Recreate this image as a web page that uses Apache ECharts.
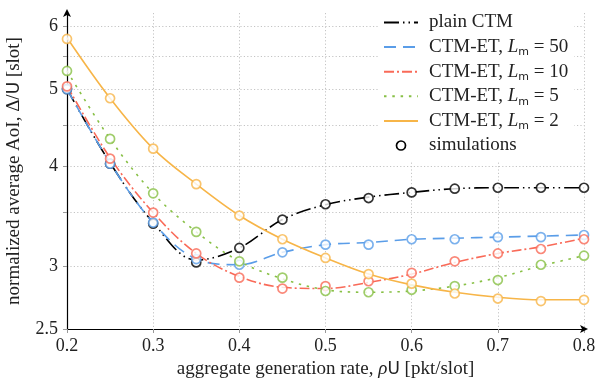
<!DOCTYPE html>
<html>
<head>
<meta charset="utf-8">
<script src="https://cdn.jsdelivr.net/npm/echarts@6/dist/echarts.min.js"></script>
<style>
  html, body { margin: 0; padding: 0; background: #fff; }
  #chart { width: 595px; height: 381px; }
</style>
</head>
<body>
<div id="chart"></div>
<script>
  // aggregate generation rate (x)
  const rates = [0.2, 0.25, 0.3, 0.35, 0.4, 0.45, 0.5, 0.55, 0.6, 0.65, 0.7, 0.75, 0.8];

  // analysis curves
  const plainTheory = [5.00, 4.04, 3.40, 3.05, 3.16, 3.43, 3.58, 3.66, 3.71, 3.75, 3.76, 3.76, 3.76];
  const lm50Theory = [5.00, 4.04, 3.40, 3.06, 3.01, 3.12, 3.19, 3.21, 3.24, 3.25, 3.26, 3.27, 3.28];
  const lm10Theory = [5.05, 4.10, 3.50, 3.11, 2.91, 2.82, 2.81, 2.86, 2.93, 3.03, 3.11, 3.17, 3.25];
  const lm5Theory = [5.27, 4.33, 3.70, 3.31, 3.04, 2.89, 2.80, 2.78, 2.79, 2.83, 2.90, 3.00, 3.09];
  const lm2Theory = [5.80, 4.87, 4.21, 3.80, 3.47, 3.24, 3.07, 2.93, 2.84, 2.78, 2.74, 2.72, 2.72];

  // simulation points
  const plainSim = [5.00, 4.03, 3.39, 3.03, 3.16, 3.43, 3.585, 3.65, 3.71, 3.75, 3.76, 3.76, 3.76];
  const lm50Sim = [5.00, 4.03, 3.40, 3.06, 3.01, 3.12, 3.19, 3.19, 3.24, 3.24, 3.26, 3.26, 3.28];
  const lm10Sim = [5.04, 4.09, 3.50, 3.11, 2.90, 2.81, 2.83, 2.87, 2.94, 3.04, 3.11, 3.15, 3.24];
  const lm5Sim = [5.27, 4.33, 3.70, 3.31, 3.04, 2.90, 2.79, 2.78, 2.80, 2.83, 2.88, 3.01, 3.09];
  const lm2Sim = [5.78, 4.87, 4.21, 3.80, 3.47, 3.24, 3.07, 2.93, 2.85, 2.77, 2.73, 2.71, 2.72];

  // y ticks (log axis)
  const yTicks = [2.5, 3, 3.5, 4, 4.5, 5, 5.5, 6];
  const yLabels = [2.5, 3, 4, 5, 6];

  const serif = 'Liberation Serif';
  const sans = 'DejaVu Sans';
  const ink = '#222';

  const legendNames = {
    'plain CTM': 'plain CTM',
    lm50: 'CTM-ET, {i|L}{sub|m} = 50',
    lm10: 'CTM-ET, {i|L}{sub|m} = 10',
    lm5: 'CTM-ET, {i|L}{sub|m} = 5',
    lm2: 'CTM-ET, {i|L}{sub|m} = 2',
    simulations: 'simulations',
  };

  const curves = [
    { name: 'plain CTM', color: '#000000', dash: [15, 4, 1.5, 4, 1.5, 4], theory: plainTheory, sim: plainSim, simName: 'simulations' },
    { name: 'lm50', color: '#5a9de8', dash: [12, 7], theory: lm50Theory, sim: lm50Sim, simName: 'sim50' },
    { name: 'lm10', color: '#f96a58', dash: [10, 3, 2, 3], theory: lm10Theory, sim: lm10Sim, simName: 'sim10' },
    { name: 'lm5', color: '#88c046', dash: [2.5, 5.8], theory: lm5Theory, sim: lm5Sim, simName: 'sim5' },
    { name: 'lm2', color: '#f7b548', dash: 'solid', theory: lm2Theory, sim: lm2Sim, simName: 'sim2' },
  ];

  function pairs(values) {
    return rates.map((x, i) => [x, values[i]]);
  }

  const series = [];
  curves.forEach((c) => {
    series.push({
      name: c.name,
      type: 'line',
      data: pairs(c.theory),
      smooth: 0.35,
      symbol: 'none',
      lineStyle: { color: c.color, width: 1.6, type: c.dash },
      itemStyle: { color: c.color },
      z: 2,
    });
  });
  curves.forEach((c) => {
    series.push({
      name: c.simName,
      type: 'scatter',
      data: pairs(c.sim),
      symbol: 'circle',
      symbolSize: 9,
      itemStyle: { color: '#ffffff', borderColor: c.color, borderWidth: 1.7 },
      z: 3,
    });
  });

  const chart = echarts.init(document.getElementById('chart'));
  chart.setOption({
    animation: false,
    backgroundColor: '#ffffff',
    grid: { left: 67, right: 11, top: 13, bottom: 52, outerBoundsMode: 'none' },
    legend: {
      data: [
        'plain CTM', 'lm50', 'lm10', 'lm5', 'lm2',
        { name: 'simulations', itemStyle: { opacity: 1, color: '#ffffff', borderColor: '#000', borderWidth: 1.7 } },
      ],
      orient: 'vertical',
      left: 378,
      top: 6.5,
      padding: [5, 6, 5, 5],
      backgroundColor: '#ffffff',
      itemWidth: 34,
      itemHeight: 9,
      itemGap: 2.6,
      itemStyle: { opacity: 0 },
      formatter: (name) => legendNames[name],
      textStyle: {
        fontFamily: serif,
        fontSize: 19,
        lineHeight: 22,
        color: ink,
        padding: [0, 0, 0, 6],
        rich: {
          i: { fontFamily: serif, fontStyle: 'italic', fontSize: 19, lineHeight: 22, color: ink },
          sub: { fontFamily: sans, fontSize: 11, color: ink, verticalAlign: 'bottom', lineHeight: 8 },
        },
      },
    },
    xAxis: {
      type: 'value',
      min: 0.2,
      max: 0.8,
      interval: 0.1,
      name: 'aggregate generation rate, {i|ρ}{sf|U} [pkt/slot]',
      nameLocation: 'middle',
      nameGap: 28,
      nameTextStyle: {
        fontFamily: serif,
        fontSize: 19,
        color: ink,
        rich: {
          i: { fontFamily: serif, fontStyle: 'italic', fontSize: 19, color: ink },
          sf: { fontFamily: sans, fontSize: 17, color: ink },
        },
      },
      axisLine: {
        onZero: false,
        lineStyle: { color: '#000', width: 1.2 },
        symbol: ['none', 'arrow'],
        symbolSize: [6, 8],
        symbolOffset: [0, 4],
      },
      axisTick: { show: true, length: 4, lineStyle: { color: '#999' } },
      axisLabel: { fontFamily: serif, fontSize: 18, color: ink, margin: 8, formatter: (v) => v.toFixed(1) },
      splitLine: { show: true, lineStyle: { color: '#c4c4c4', type: [1.2, 2.2], width: 1 } },
    },
    yAxis: {
      type: 'log',
      logBase: 10,
      min: 2.5,
      max: 6.23,
      name: 'normalized average AoI, Δ/{sf|U} [slot]',
      nameLocation: 'middle',
      nameGap: 43,
      nameTextStyle: {
        fontFamily: serif,
        fontSize: 19,
        color: ink,
        rich: {
          sf: { fontFamily: sans, fontSize: 17, color: ink },
        },
      },
      axisLine: {
        onZero: false,
        lineStyle: { color: '#000', width: 1.2 },
        symbol: ['none', 'arrow'],
        symbolSize: [6, 8],
        symbolOffset: [0, 4],
      },
      axisTick: { show: true, length: 4, customValues: yTicks, lineStyle: { color: '#999' } },
      axisLabel: {
        fontFamily: serif,
        fontSize: 18,
        color: ink,
        margin: 9,
        customValues: yLabels,
        formatter: (v) => String(v),
      },
      splitLine: { show: true, lineStyle: { color: '#c4c4c4', type: [1.2, 2.2], width: 1 } },
      minorTick: { show: false },
    },
    series: series,
  });
</script>
</body>
</html>
